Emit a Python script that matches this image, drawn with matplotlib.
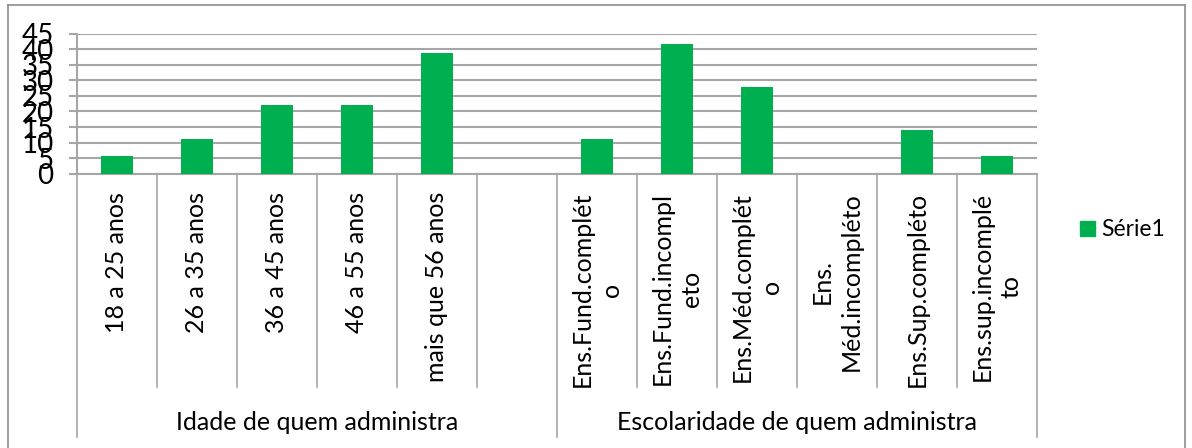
import matplotlib
matplotlib.use("Agg")
import matplotlib.pyplot as plt
from matplotlib.transforms import blended_transform_factory
from matplotlib.lines import Line2D
from matplotlib.patches import Rectangle

plt.rcParams['font.family'] = ['Lato', 'DejaVu Sans']

categories = ["18 a 25 anos", "26 a 35 anos", "36 a 45 anos", "46 a 55 anos",
              "mais que 56 anos", "",
              "Ens.Fund.complét\no", "Ens.Fund.incompl\neto", "Ens.Méd.complét\no",
              "Ens.\nMéd.incompléto", "Ens.Sup.compléto", "Ens.sup.incomplé\nto"]
values = [5.56, 11.11, 22.22, 22.22, 38.89, 0,
          11.11, 41.67, 27.78, 0, 13.89, 5.56]
groups = ["Idade de quem administra", "Escolaridade de quem administra"]
group_sizes = [6, 6]
yticks = [0, 5, 10, 15, 20, 25, 30, 35, 40, 45]
series_name = "Série1"

W, H = 1192, 448
fig = plt.figure(figsize=(W / 100, H / 100), dpi=100)

x_left, x_right = 77, 1037
y_top, y_bot = 33.7, 173.7
ax = fig.add_axes([x_left / W, 1 - y_bot / H, (x_right - x_left) / W, (y_bot - y_top) / H])

green = "#00B050"
grid = "#a6a6a6"
xs = list(range(len(categories)))
ax.bar(xs, values, width=0.4, color=green, zorder=3)
ax.set_xlim(-0.5, len(categories) - 0.5)
ax.set_ylim(0, 45)
ax.set_yticks(yticks)
ax.set_yticklabels([str(v) for v in yticks], fontsize=20)
ax.yaxis.grid(True, color=grid, linewidth=1.5, zorder=0)
ax.set_xticks([])
for s in ["top", "right"]:
    ax.spines[s].set_visible(False)
for s in ["left", "bottom"]:
    ax.spines[s].set_color(grid)
    ax.spines[s].set_linewidth(1.5)
ax.tick_params(axis="y", length=5.8, width=1.5, color=grid, pad=11, labelcolor="black")

tr = blended_transform_factory(ax.transData, fig.transFigure)
def fy(px):
    return 1 - px / H

n = len(categories)
bounds = []
pos = -0.5
for gs in group_sizes:
    bounds.append(pos)
    pos += gs
bounds.append(pos)
for i in range(n + 1):
    xb = i - 0.5
    bottom = 437 if xb in bounds else 387
    fig.add_artist(Line2D([xb, xb], [fy(y_bot), fy(bottom)], transform=tr,
                          color=grid, linewidth=1.2))

for x, lab in zip(xs, categories):
    if lab:
        fig.text(x, fy(192), lab, transform=tr, rotation=90, ha="center", va="top",
                 fontsize=18, multialignment="center", linespacing=1.3)

start = -0.5
for g, gs in zip(groups, group_sizes):
    fig.text(start + gs / 2, fy(422), g, transform=tr, ha="center", va="center",
             fontsize=18)
    start += gs

# legend
fig.add_artist(Rectangle((1080 / W, fy(236)), 15 / W, 15 / H, transform=fig.transFigure,
                         color=green))
fig.text(1101 / W, fy(229), series_name, fontsize=16.5, va="center", ha="left")

# outer chart frame
frame = "#8c8c8c"
fig.add_artist(Line2D([8 / W, 8 / W], [fy(5), 0], transform=fig.transFigure, color=frame, linewidth=1.2))
fig.add_artist(Line2D([8 / W, 1185 / W], [fy(5), fy(5)], transform=fig.transFigure, color=frame, linewidth=1.2))
fig.add_artist(Line2D([1185 / W, 1185 / W], [fy(5), 0], transform=fig.transFigure, color=frame, linewidth=1.2))

fig.savefig("out.png", dpi=100)
